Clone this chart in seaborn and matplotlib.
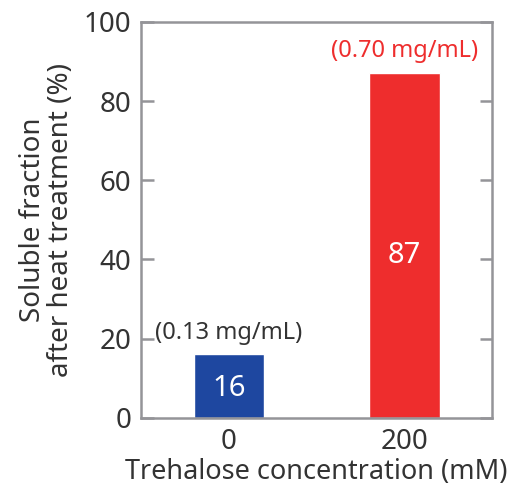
import matplotlib
matplotlib.use("Agg")
import matplotlib.pyplot as plt
import seaborn as sns
import pandas as pd

concentrations = ["0", "200"]
soluble = [16, 87]
mg_labels = ["(0.13 mg/mL)", "(0.70 mg/mL)"]
bar_colors = ["#1e47a0", "#ee2d2d"]
label_colors = ["#333333", "#ee2d2d"]
yticks = [0, 20, 40, 60, 80, 100]

df = pd.DataFrame({"conc": concentrations, "soluble": soluble})

sns.set_style("white")
plt.rcParams["font.family"] = ["Noto Sans", "DejaVu Sans"]

fig = plt.figure(figsize=(5.22, 4.87), dpi=100)
ax = fig.add_axes([0.270, 0.142, 0.673, 0.813])

sns.barplot(data=df, x="conc", y="soluble", hue="conc", palette=bar_colors,
            width=0.4, legend=False, ax=ax, saturation=1)

ax.set_xlim(-0.5, 1.5)
ax.set_ylim(0, 100)
ax.set_yticks(yticks)
ax.set_xticks([0, 1])
ax.set_xticklabels(concentrations)
ax.set_xticks([0.5], minor=True)

grey = "#949498"
for s in ax.spines.values():
    s.set_color(grey)
    s.set_linewidth(1.8)

fs = 20
ax.tick_params(axis="y", which="both", direction="in", length=9, width=1.8,
               color=grey, labelsize=fs, labelcolor="#333333", right=True, left=True, pad=7)
ax.tick_params(axis="x", which="major", length=0, labelsize=fs, labelcolor="#333333", pad=7)
ax.tick_params(axis="x", which="minor", direction="in", length=7, width=1.8, color=grey)

ax.set_xlabel("Trehalose concentration (mM)", fontsize=19.5, color="#333333", labelpad=2)
ax.set_ylabel("Soluble fraction\nafter heat treatment (%)", fontsize=fs, color="#333333",
              labelpad=6, linespacing=1.0)

# value inside bars and concentration in mg/mL above
for i, v in enumerate(soluble):
    ypos = 7.5 if v < 30 else 41
    ax.text(i, ypos, str(v), ha="center", va="center", color="white", fontsize=21)
    ax.text(i, v + 2.5, mg_labels[i], ha="center", va="bottom", color=label_colors[i], fontsize=17)

plt.savefig("out.png", dpi=100)
